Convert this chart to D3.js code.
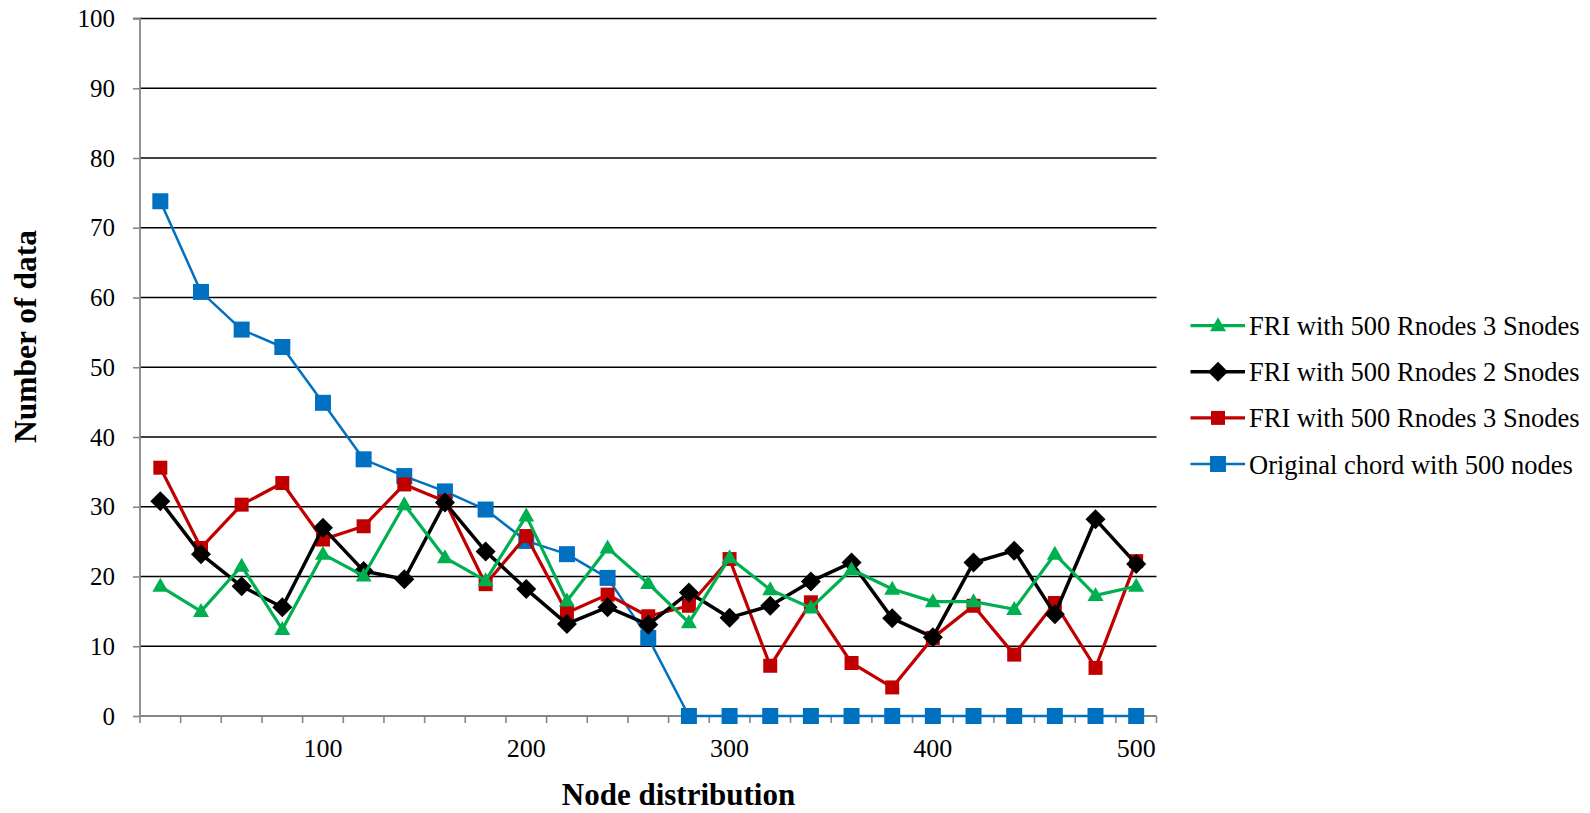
<!DOCTYPE html>
<html>
<head>
<meta charset="utf-8">
<script src="https://cdn.jsdelivr.net/npm/d3@7"></script>
<style>
  html, body { margin: 0; padding: 0; background: #fff; }
  svg, svg text { font-family: "Liberation Serif", "Times New Roman", serif !important; }
</style>
</head>
<body>
<svg id="chart" width="1590" height="813"></svg>
<script>
// Node distribution categories (x axis)
const categories = [20, 40, 60, 80, 100, 120, 140, 160, 180, 200, 220, 240, 260,
                    280, 300, 320, 340, 360, 380, 400, 420, 440, 460, 480, 500];
const xTickLabels = [100, 200, 300, 400, 500];
const yTickValues = [0, 10, 20, 30, 40, 50, 60, 70, 80, 90, 100];

// Series values
const friGreen = [18.6, 15.0, 21.5, 12.4, 23.2, 20.1, 30.3, 22.7, 19.4, 28.7, 16.5, 24.1, 19.0,
                  13.4, 22.7, 18.1, 15.5, 21.0, 18.2, 16.4, 16.4, 15.3, 23.2, 17.3, 18.6];
const friBlack = [30.8, 23.2, 18.6, 15.6, 27.0, 20.8, 19.6, 30.6, 23.6, 18.2, 13.2, 15.6, 13.1,
                  17.7, 14.1, 15.8, 19.3, 22.0, 14.0, 11.3, 22.0, 23.7, 14.6, 28.2, 21.8];
const friRed   = [35.6, 24.1, 30.3, 33.4, 25.3, 27.2, 33.2, 30.8, 18.9, 25.8, 14.8, 17.4, 14.3,
                  15.8, 22.5, 7.2, 16.3, 7.6, 4.1, 11.2, 15.8, 8.8, 16.2, 6.9, 22.2];
const chordBlue = [73.8, 60.8, 55.4, 52.9, 44.9, 36.8, 34.4, 32.2, 29.6, 25.1, 23.2, 19.8, 11.2,
                   0, 0, 0, 0, 0, 0, 0, 0, 0, 0, 0, 0];

const seriesNames = ["FRI with 500 Rnodes 3 Snodes", "FRI with 500 Rnodes 2 Snodes",
                     "FRI with 500 Rnodes 3 Snodes", "Original chord with 500 nodes"];

const series = [
  { name: seriesNames[0], values: friGreen,  color: "#00B050", width: 3.2, marker: "triangle", size: 16 },
  { name: seriesNames[1], values: friBlack,  color: "#000000", width: 3.5, marker: "diamond",  size: 20 },
  { name: seriesNames[2], values: friRed,    color: "#C00000", width: 3.2, marker: "square",   size: 14 },
  { name: seriesNames[3], values: chordBlue, color: "#0070C0", width: 2.5, marker: "square",   size: 16 }
];

const FONT = '"Liberation Serif", "Times New Roman", serif';
const svg = d3.select("#chart");
const plot = { left: 140, right: 1156.5, top: 18.5, bottom: 716 };

const x = d3.scaleBand().domain(categories).range([plot.left, plot.right]).padding(0);
const y = d3.scaleLinear().domain([0, 100]).range([plot.bottom, plot.top]);
const cx = d => x(d) + x.bandwidth() / 2;

// Marker path generators centered on 0,0
function markerPath(type, s) {
  const h = s / 2;
  if (type === "square") return `M${-h},${-h}H${h}V${h}H${-h}Z`;
  if (type === "diamond") return `M0,${-h}L${h},0L0,${h}L${-h},0Z`;
  const th = s * 0.875;
  return `M0,${-th * 0.6}L${h},${th * 0.4}L${-h},${th * 0.4}Z`;
}

// Horizontal gridlines
svg.append("g")
  .selectAll("line")
  .data(yTickValues.filter(v => v > 0))
  .join("line")
  .attr("x1", plot.left).attr("x2", plot.right)
  .attr("y1", d => y(d)).attr("y2", d => y(d))
  .attr("stroke", "#000").attr("stroke-width", 1.5);

// Y axis
const yAxis = svg.append("g")
  .attr("transform", `translate(${plot.left},0)`)
  .call(d3.axisLeft(y).tickValues(yTickValues).tickSize(7).tickPadding(18).tickFormat(d3.format("d")))
  .attr("font-family", null).attr("font-size", null);
yAxis.select(".domain").attr("stroke", "#868686").attr("stroke-width", 1.8)
  .attr("d", `M-7,${y(100)}H0V${y(0)}`);
yAxis.selectAll(".tick line").attr("stroke", "#868686").attr("stroke-width", 1.6);
yAxis.selectAll(".tick text")
  .style("font-family", FONT)
  .style("font-size", "25px").attr("fill", "#000");

// X axis: tick marks at category boundaries, labels every 100
const xAxis = svg.append("g").attr("transform", `translate(0,${plot.bottom})`);
xAxis.append("line")
  .attr("x1", plot.left).attr("x2", plot.right)
  .attr("stroke", "#868686").attr("stroke-width", 1.8);
xAxis.selectAll("line.tick")
  .data(categories.map(c => x(c)).concat([plot.right]))
  .join("line")
  .attr("class", "tick")
  .attr("x1", d => d).attr("x2", d => d)
  .attr("y1", 0).attr("y2", 7)
  .attr("stroke", "#868686").attr("stroke-width", 1.6);
const xLabels = svg.append("g")
  .attr("transform", `translate(0,${plot.bottom})`)
  .call(d3.axisBottom(x).tickValues(xTickLabels).tickSize(0).tickFormat(d3.format("d")))
  .attr("font-family", null).attr("font-size", null);
xLabels.select(".domain").remove();
xLabels.selectAll(".tick")
  .attr("transform", d => `translate(${cx(d)},0)`);
xLabels.selectAll(".tick text")
  .attr("y", 41).attr("dy", 0)
  .style("font-family", FONT)
  .style("font-size", "26px").attr("fill", "#000");

// Axis titles
svg.append("text")
  .attr("x", 678.5).attr("y", 805)
  .attr("text-anchor", "middle")
  .style("font-family", FONT)
  .style("font-weight", "bold").style("font-size", "31px")
  .text("Node distribution");
svg.append("text")
  .attr("transform", "translate(36,336.5) rotate(-90)")
  .attr("text-anchor", "middle")
  .style("font-family", FONT)
  .style("font-weight", "bold").style("font-size", "31.5px")
  .text("Number of data");

// Series lines and markers (drawn back to front: blue, red, black, green)
const line = d3.line().x((d, i) => cx(categories[i])).y(d => y(d));
const drawOrder = [3, 2, 1, 0];
drawOrder.forEach(k => {
  const s = series[k];
  const g = svg.append("g");
  g.append("path")
    .attr("d", line(s.values))
    .attr("fill", "none")
    .attr("stroke", s.color)
    .attr("stroke-width", s.width)
    .attr("stroke-linejoin", "round");
  g.selectAll("path.mk")
    .data(s.values)
    .join("path")
    .attr("class", "mk")
    .attr("d", markerPath(s.marker, s.size))
    .attr("transform", (d, i) => `translate(${cx(categories[i])},${y(d)})`)
    .attr("fill", s.color);
});

// Legend
const legend = svg.append("g");
const legendTop = 325.7, legendStep = 46.1;
series.forEach((s, i) => {
  const g = legend.append("g").attr("transform", `translate(0,${legendTop + i * legendStep})`);
  g.append("line")
    .attr("x1", 1190.5).attr("x2", 1245)
    .attr("stroke", s.color).attr("stroke-width", s.width);
  g.append("path")
    .attr("d", markerPath(s.marker, s.size))
    .attr("transform", "translate(1218,0)")
    .attr("fill", s.color);
  g.append("text")
    .attr("x", 1249).attr("y", 9.5)
    .style("font-family", FONT)
    .style("font-size", "26.5px")
    .text(s.name);
});
</script>
</body>
</html>
